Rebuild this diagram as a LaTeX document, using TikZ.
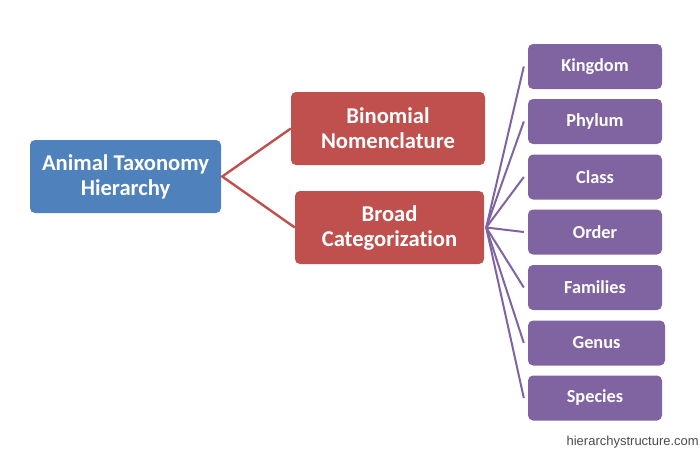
\documentclass[tikz,border=0pt]{standalone}
\usepackage{fontspec}
\setmainfont{Carlito}[Ligatures=NoCommon]
\newfontfamily\wmfont{Liberation Sans}
\definecolor{tblue}{HTML}{4F81BD}
\definecolor{tred}{HTML}{C0504D}
\definecolor{tpurple}{HTML}{8064A2}
\begin{document}
\begin{tikzpicture}[x=1pt,y=-1pt,
  box/.style={rounded corners=5pt, text=white, font=\bfseries, align=center, inner sep=0pt},
  rootbox/.style={box, fill=tblue, minimum width=191pt, minimum height=73pt, font=\fontsize{22.6}{25}\selectfont\bfseries},
  midbox/.style={box, fill=tred, minimum height=73pt, font=\fontsize{22.6}{25}\selectfont\bfseries},
  leafbox/.style={box, fill=tpurple, minimum width=134pt, minimum height=45pt, font=\fontsize{18.3}{20}\selectfont\bfseries},
  redline/.style={draw=tred, line width=2.4pt},
  purpline/.style={draw=tpurple, line width=2pt}]
\useasboundingbox (0,0) rectangle (700,450);
\node[rootbox] (root) at (125.5,176.5) {Animal Taxonomy\\Hierarchy};
\node[midbox, minimum width=194pt] (bin) at (388,128.5) {Binomial\\Nomenclature};
\node[midbox, minimum width=189pt] (broad) at (389.5,227.5) {Broad\\Categorization};
\node[leafbox] (k) at (595,66.5) {Kingdom};
\node[leafbox] (p) at (595,121.5) {Phylum};
\node[leafbox] (c) at (595,177) {Class};
\node[leafbox] (o) at (595,232) {Order};
\node[leafbox] (f) at (595,287.5) {Families};
\node[leafbox, minimum width=137pt] (g) at (596.5,343) {Genus};
\node[leafbox] (s) at (595,398) {Species};
\coordinate (rootR) at ([xshift=1pt]root.east);
\coordinate (broadR) at ([xshift=2pt]broad.east);
\draw[redline] (bin.west) -- (rootR) -- (broad.west);
\foreach \n in {k,p,c,o,f,g,s}{
  \draw[purpline] (broadR) -- ([xshift=-4pt]\n.west);
}
\node[anchor=base east, font=\wmfont\fontsize{13}{15}\selectfont, text=black!70, inner sep=0pt] (wm) at (699,445) {hierarchystructure.com};
\end{tikzpicture}
\end{document}
